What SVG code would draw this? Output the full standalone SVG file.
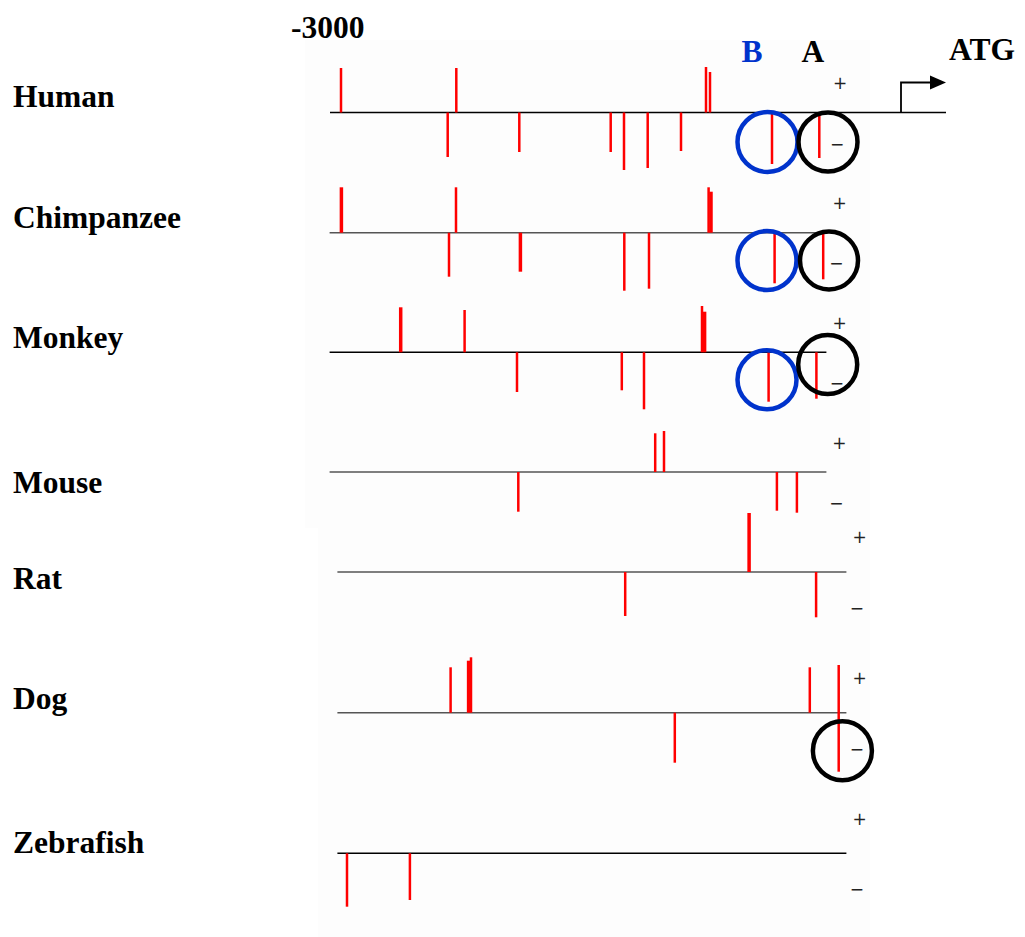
<svg xmlns="http://www.w3.org/2000/svg" width="1025" height="937" viewBox="0 0 1025 937">
<style>
.lbl{font-family:"Liberation Serif","Times New Roman",serif;font-weight:bold;font-size:31.5px;fill:#000}
.hdr{font-family:"Liberation Serif","Times New Roman",serif;font-weight:bold;font-size:31.5px}
.pm{font-family:"DejaVu Sans",sans-serif;font-size:17px;fill:#222;text-anchor:middle;dominant-baseline:central}
.axis{stroke:#000;stroke-width:1.5;fill:none}
.axisg{stroke:#555;stroke-width:1.5;fill:none}
.t{stroke:#ff0000;stroke-width:2.5;fill:none}
.tk{stroke:#ff0000;stroke-width:3.5;fill:none}
.cb{stroke:#0033cc;stroke-width:4.5;fill:none}
.ck{stroke:#000;stroke-width:4.5;fill:none}
</style>
<rect x="0" y="0" width="1025" height="937" fill="#ffffff"/>
<rect x="305" y="40" width="565" height="488" fill="#fdfdfd"/>
<rect x="318" y="528" width="552" height="409" fill="#fdfdfd"/>

<g id="header">
<text class="hdr" x="291" y="37.5">-3000</text>
<text class="hdr" x="741.5" y="62" fill="#0033cc">B</text>
<text class="hdr" x="801.5" y="62" fill="#000">A</text>
<text class="hdr" x="949" y="60" fill="#000">ATG</text>
</g>

<g id="human">
<text class="lbl" x="13" y="106.5">Human</text>
<line class="axis" x1="330" y1="112.5" x2="946" y2="112.5"/>
<path d="M901 112.5 V82.5 H932" fill="none" stroke="#000" stroke-width="1.8"/>
<polygon points="930,75.5 946,82.5 930,89.5" fill="#000"/>
<text class="pm" x="840" y="83">+</text>
<text class="pm" x="837" y="144">−</text>
<line class="t" x1="341" y1="68" x2="341" y2="112.5"/>
<line class="t" x1="456.3" y1="68" x2="456.3" y2="112.5"/>
<line class="t" x1="706" y1="67" x2="706" y2="112.5"/>
<line class="t" x1="710" y1="72" x2="710" y2="112.5"/>
<line class="t" x1="447.7" y1="112.5" x2="447.7" y2="157"/>
<line class="t" x1="519.3" y1="112.5" x2="519.3" y2="152"/>
<line class="t" x1="610.7" y1="112.5" x2="610.7" y2="152"/>
<line class="t" x1="624" y1="112.5" x2="624" y2="170"/>
<line class="t" x1="647.7" y1="112.5" x2="647.7" y2="168"/>
<line class="t" x1="681" y1="112.5" x2="681" y2="151"/>
<line class="t" x1="772" y1="112.5" x2="772" y2="164"/>
<line class="t" x1="819.3" y1="112.5" x2="819.3" y2="158"/>
<circle class="cb" cx="767.5" cy="142" r="30"/>
<circle class="ck" cx="828" cy="142" r="29.5"/>
</g>

<g id="chimpanzee">
<text class="lbl" x="13" y="228.3">Chimpanzee</text>
<line class="axisg" x1="329.6" y1="232.7" x2="826" y2="232.7"/>
<text class="pm" x="839.6" y="203.3">+</text>
<text class="pm" x="836.4" y="263.3">−</text>
<line class="tk" x1="341.4" y1="187.3" x2="341.4" y2="232.7"/>
<line class="t" x1="456" y1="187.3" x2="456" y2="232.7"/>
<line class="t" x1="708.6" y1="187.3" x2="708.6" y2="232.7"/>
<line class="tk" x1="711" y1="191.7" x2="711" y2="232.7"/>
<line class="t" x1="449" y1="232.7" x2="449" y2="276.7"/>
<line class="tk" x1="520.4" y1="232.7" x2="520.4" y2="271.7"/>
<line class="t" x1="624.3" y1="232.7" x2="624.3" y2="290.7"/>
<line class="t" x1="649" y1="232.7" x2="649" y2="288.7"/>
<line class="t" x1="774.6" y1="232.7" x2="774.6" y2="283.3"/>
<line class="t" x1="823.2" y1="232.7" x2="823.2" y2="279.3"/>
<circle class="cb" cx="767" cy="260.5" r="29.5"/>
<circle class="ck" cx="829" cy="260.5" r="29"/>
</g>

<g id="monkey">
<text class="lbl" x="13" y="348.3">Monkey</text>
<line class="axis" x1="329.6" y1="352.3" x2="826.4" y2="352.3"/>
<text class="pm" x="839.6" y="323.3">+</text>
<text class="pm" x="836.8" y="383.3">−</text>
<line class="tk" x1="400.7" y1="307.3" x2="400.7" y2="352.3"/>
<line class="t" x1="464.6" y1="310" x2="464.6" y2="352.3"/>
<line class="t" x1="702" y1="306" x2="702" y2="352.3"/>
<line class="tk" x1="704.6" y1="311.7" x2="704.6" y2="352.3"/>
<line class="t" x1="517" y1="352.3" x2="517" y2="392"/>
<line class="t" x1="621.8" y1="352.3" x2="621.8" y2="390.3"/>
<line class="t" x1="644" y1="352.3" x2="644" y2="409.3"/>
<line class="t" x1="768.6" y1="352.3" x2="768.6" y2="401.7"/>
<line class="t" x1="816.4" y1="352.3" x2="816.4" y2="398.7"/>
<circle class="cb" cx="767" cy="379.7" r="29.5"/>
<circle class="ck" cx="827.7" cy="364.5" r="29.5"/>
</g>

<g id="mouse">
<text class="lbl" x="13" y="493.3">Mouse</text>
<line class="axisg" x1="329.6" y1="472" x2="826.4" y2="472"/>
<text class="pm" x="839.4" y="442.7">+</text>
<text class="pm" x="836.4" y="502.7">−</text>
<line class="t" x1="655.2" y1="433.3" x2="655.2" y2="472"/>
<line class="t" x1="664" y1="431" x2="664" y2="472"/>
<line class="t" x1="518.3" y1="472" x2="518.3" y2="511.7"/>
<line class="t" x1="776.9" y1="472" x2="776.9" y2="510.7"/>
<line class="t" x1="796.9" y1="472" x2="796.9" y2="512.7"/>
</g>

<g id="rat">
<text class="lbl" x="13" y="589.3">Rat</text>
<line class="axisg" x1="337.4" y1="572" x2="846.4" y2="572"/>
<text class="pm" x="859.7" y="537.3">+</text>
<text class="pm" x="856.8" y="607.7">−</text>
<line class="tk" x1="749.1" y1="513" x2="749.1" y2="572"/>
<line class="t" x1="625.2" y1="572" x2="625.2" y2="616"/>
<line class="t" x1="816.1" y1="572" x2="816.1" y2="617.3"/>
</g>

<g id="dog">
<text class="lbl" x="13" y="709.3">Dog</text>
<line class="axisg" x1="337.4" y1="712.7" x2="846.4" y2="712.7"/>
<text class="pm" x="859.7" y="678.3">+</text>
<text class="pm" x="856.8" y="749">−</text>
<line class="t" x1="450.6" y1="667.3" x2="450.6" y2="712.7"/>
<line class="tk" x1="468.6" y1="660.7" x2="468.6" y2="712.7"/>
<line class="t" x1="471" y1="657.3" x2="471" y2="712.7"/>
<line class="t" x1="809.8" y1="667.3" x2="809.8" y2="712.7"/>
<line class="t" x1="674.8" y1="712.7" x2="674.8" y2="762.7"/>
<line class="t" x1="838.7" y1="665" x2="838.7" y2="771.7"/>
<circle class="ck" cx="842.4" cy="750.7" r="29.5"/>
</g>

<g id="zebrafish">
<text class="lbl" x="13" y="852.7">Zebrafish</text>
<line class="axis" x1="337.4" y1="853.3" x2="846.4" y2="853.3"/>
<text class="pm" x="859.7" y="819.3">+</text>
<text class="pm" x="856.8" y="889.3">−</text>
<line class="t" x1="347" y1="853.3" x2="347" y2="906.7"/>
<line class="t" x1="409.9" y1="853.3" x2="409.9" y2="900"/>
</g>
</svg>
